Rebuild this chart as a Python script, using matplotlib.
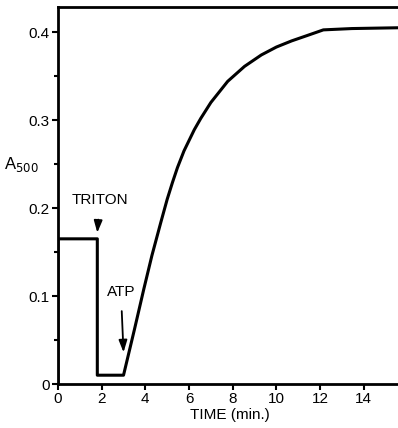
import matplotlib.pyplot as plt
import numpy as np
from matplotlib.ticker import MultipleLocator

# trace: TIME (min.) vs A500
time_min = [0.0, 0.0, 1.8, 1.8, 3.0, 3.5, 3.93, 4.3, 4.7, 5.0, 5.24, 5.47,
            5.77, 6.24, 6.54, 7.0, 7.77, 8.54, 9.31, 10.0, 10.7, 11.4, 11.92,
            12.15, 13.46, 15.8]
a500 = [0.0, 0.165, 0.165, 0.010, 0.010, 0.062, 0.108, 0.146, 0.183, 0.210,
        0.229, 0.246, 0.265, 0.289, 0.302, 0.320, 0.344, 0.361, 0.374, 0.383,
        0.390, 0.396, 0.4005, 0.4025, 0.404, 0.405]

x_ticks = [0, 2, 4, 6, 8, 10, 12, 14]
y_ticks = [0, 0.1, 0.2, 0.3, 0.4]
y_tick_labels = ["0", "0.1", "0.2", "0.3", "0.4"]

plt.rcParams['font.family'] = ['Liberation Sans', 'DejaVu Sans']

fig = plt.figure(figsize=(3.98, 4.28), dpi=100)
ax = fig.add_axes([58 / 398, 44 / 428, 1 - 58 / 398 + 0.01, (384 - 7) / 428])

ax.plot(time_min, a500, color='black', lw=2.2, solid_joinstyle='round')

ax.set_xlim(0, 15.75)
ax.set_ylim(0, 0.4285)
ax.set_xticks(x_ticks)
ax.set_yticks(y_ticks)
ax.set_yticklabels(y_tick_labels)
ax.yaxis.set_minor_locator(MultipleLocator(0.05))
ax.tick_params(axis='both', direction='out', length=4, width=1.5, labelsize=11, pad=2)
ax.tick_params(axis='y', which='minor', direction='out', length=3, width=1.5)

for side in ['left', 'bottom', 'top']:
    ax.spines[side].set_linewidth(2)
ax.spines['right'].set_visible(False)

ax.set_xlabel("TIME (min.)", fontsize=11, labelpad=1)
ax.text(-0.9, 0.25, r"A$_{500}$", fontsize=12, ha='right', va='center')

# annotations
arrow = dict(arrowstyle='-|>,head_length=0.4,head_width=0.14', color='black',
             lw=1.3, shrinkA=7, shrinkB=0, mutation_scale=18)
ax.annotate("TRITON", xy=(1.8, 0.172), xytext=(1.9, 0.209), fontsize=11,
            ha='center', va='center', arrowprops=arrow)
ax.annotate("ATP", xy=(3.0, 0.036), xytext=(2.88, 0.105), fontsize=11,
            ha='center', va='center', arrowprops=arrow)

fig.savefig("out.png", dpi=100)
